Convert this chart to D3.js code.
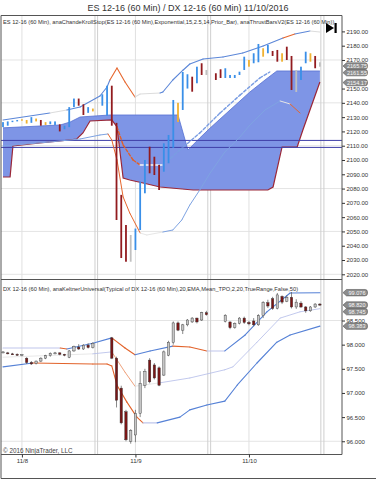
<!DOCTYPE html>
<html>
<head>
<meta charset="utf-8">
<script src="https://cdn.jsdelivr.net/npm/d3@7"></script>
<style>
body{margin:0;background:#fff;}
svg text{font-family:"Liberation Sans",Arial,sans-serif;}
</style>
</head>
<body>
<svg id="chart" width="376" height="480"></svg>
<script>
// 60 min bars, index 0..67
const dateTicks = [[4, "11/8"], [28, "11/9"], [52, "11/10"]];
const sessionBreaks = [19.45, 20.0, 43.3, 43.9, 67.2, 67.85];

// ES 12-16 thrust bars (null = no bar)
const esHigh = [2126.5,2127,2127.5,2128,2128.5,2128,2130,2129,2128,2126.5,
  2127,2127,2125,2124,2137,2143,2143,2139,2137,2136,
  null,2146,2152,2152,2126,2075.6,2054.5,2047.5,2052,2084.8,
  2100,2109.3,2102.3,2096.5,2111.7,2117.5,2142,2140,2161.6,2160,
  2158.3,2165.3,2167.7,2163,null,2160.7,2163.5,2164.2,2159.5,2159.5,
  2161.8,2172.3,2170,2174.7,2181.2,2178.2,2180.5,2176.3,2177,2174.7,
  2179.3,2172.8,2163,2165.3,2175.8,2174.7,2172.8,2168.4];
const esLow = [2123,2124,2126.5,2127,2127.5,2125.5,2126,2127,2124,2124.5,
  2125,2124.5,2120,2121.5,2123,2137,2138,2131.5,2133,2134,
  null,2138,2131,2124,2058,2031.4,2028.8,2028.8,2037,2051,
  2076.7,2090.7,2089.5,2079,2091.8,2097.7,2108.5,2126.6,2135,2150,
  2147.8,2153.7,2159.5,2159.5,null,2156,2157.4,2157.4,2157.4,2157.4,
  2159.5,2163,2165.3,2167.7,2168.4,2172.3,2174.7,2172.8,2168.8,2168.8,
  2170,2149,2147.6,2156,2167.7,2168.8,2164.2,2165.3];
// thrust type: b up-thrust, o weak, r down, g neutral
const esType = "bbbbooboro" + "bbrbbbrrbo" + "-bbrrrrgbb" + "brrrbbbobb" +
  "rbrg-rrbbb" + "bbobbobrro" + "rrgbborg";

// ES indicator lines: [bar index, price, trend]
const esUpper = [[0,2128,"u"],[9.9,2132.9,"f"],[13.5,2135,"u"],[16.3,2137.1,"u"],[20.5,2144.8,"u"],
  [22,2151.1,"u"],[22.6,2156,"d"],[24.1,2164.4,"d"],[25.8,2154.6,"d"],[27.9,2144.1,"f"],
  [29,2146.2,"f"],[33.2,2146.9,"u"],[33.8,2147.6,"u"],[35.9,2156,"u"],[38.1,2163,"u"],
  [39.5,2167.2,"u"],[42.3,2170.7,"u"],[46.5,2172.1,"u"],[50.7,2174.9,"u"],[55,2179.8,"u"],
  [59.2,2185.4,"d"],[61.7,2188.2,"u"],[64.9,2190.3,"f"],[67,2189.6,"f"]];
const esLower = [[0,2109.8,"u"],[9.9,2112.6,"u"],[16.3,2114.7,"u"],[20.5,2117.5,"u"],[22.2,2118.2,"d"],
  [23,2114,"d"],[24.1,2100,"d"],[25.4,2074.1,"d"],[26.8,2062.9,"d"],[29,2048.9,"f"],
  [30.4,2047.5,"f"],[33.8,2049.6,"u"],[35.9,2051,"u"],[37.8,2058,"u"],[39.5,2068.5,"u"],
  [41.6,2079,"u"],[43.8,2090.9,"u"],[46.9,2105.6,"u"],[50.1,2116.1,"u"],[52.2,2124.5,"u"],
  [55.4,2135,"u"],[58.6,2141.3,"f"],[60.7,2139.2,"d"],[62.8,2132.9,"d"]];
const esStop = [[24.1,2123.1,"d"],[25.4,2110.5,"d"],[27.5,2100,"d"],[29,2096.5,"f"],[33.8,2096.5,"u"],
  [37.4,2107,"u"],[41.6,2118.9,"u"],[45.9,2132.9,"u"],[50.1,2145.4,"u"],[54.3,2157.4,"u"],[56.4,2161.6,"u"]];
// Chande Kroll band (fill between top and bottom)
const cloudTop = [[0,2122.5],[12.1,2124.5],[14.2,2126.6],[16.3,2130.1],[22.6,2131.5],[37,2131.5],
  [39.1,2107],[41.6,2115.4],[43.8,2122.4],[48,2135],[52.2,2147.6],[55.4,2156],[57.9,2162.3],[67,2162.3]];
const cloudBottom = [[0,2088.1],[1.5,2088.1],[2.1,2109.8],[7.8,2111.9],[12.1,2113.3],[15.6,2114.7],
  [16.9,2118.9],[18.4,2127.3],[23,2128],[24.1,2123.1],[25.4,2087.4],[26.8,2086],[29.6,2083.9],
  [33.2,2081.1],[40.2,2079],[56,2079],[57.1,2081.1],[59,2109.1],[62.2,2109.1],[63.4,2121],
  [64.9,2135],[67,2154.6]];
const esLevels = [2113.7, 2108.8];
const esMarkers = [["2165.75", 2165.75], ["2161.55", 2161.55], ["2154.17", 2154.17]];
const esTicks = d3.range(2020, 2191, 10);
const esGrid = [2170, 2140, 2110, 2080, 2050, 2020];

// DX 12-16 candles
const dxOpen = [97.84,97.83,97.81,97.80,97.78,97.72,97.63,97.61,97.66,97.72,
  97.77,97.82,97.83,97.80,97.74,97.87,97.95,97.91,97.99,97.94,
  null,null,null,98.14,97.72,97.10,96.61,96.00,96.13,96.58,
  97.16,97.68,97.58,97.52,97.37,97.78,98.04,98.45,98.30,98.41,
  98.47,98.55,98.51,98.66,null,null,null,98.48,98.47,98.35,
  98.44,98.55,98.46,98.49,98.41,98.60,98.87,98.95,98.75,99.00,
  98.90,98.98,98.78,98.86,98.78,98.70,98.78,98.84];
const dxHigh = [97.86,97.85,97.83,97.82,97.80,97.74,97.66,97.67,97.74,97.79,
  97.84,97.85,97.84,97.81,97.89,97.98,98.01,98.01,98.03,98.05,
  null,null,null,98.16,97.75,97.15,96.65,96.25,96.65,97.45,
  97.50,97.72,97.62,97.55,97.88,98.08,98.48,98.48,98.43,98.53,
  98.57,98.56,98.68,98.70,null,null,null,98.63,98.48,98.46,
  98.57,98.58,98.49,98.55,98.63,98.90,98.93,98.99,99.07,99.02,
  99.02,99.09,98.94,98.90,98.80,98.80,98.86,98.86];
const dxLow = [97.82,97.80,97.79,97.77,97.76,97.60,97.58,97.59,97.64,97.70,
  97.75,97.80,97.78,97.76,97.72,97.85,97.89,97.89,97.92,97.92,
  null,null,null,97.70,96.70,96.35,96.00,95.95,95.98,96.50,
  97.10,97.20,97.28,97.14,97.35,97.76,98.00,98.28,98.22,98.38,
  98.45,98.44,98.49,98.60,null,null,null,98.46,98.32,98.33,
  98.42,98.43,98.40,98.38,98.39,98.55,98.76,98.72,98.73,98.84,
  98.88,98.75,98.74,98.76,98.66,98.68,98.76,98.80];
const dxClose = [97.85,97.82,97.80,97.78,97.79,97.63,97.60,97.66,97.72,97.77,
  97.82,97.83,97.80,97.78,97.87,97.96,97.91,97.99,97.94,98.03,
  null,null,null,97.72,96.85,96.38,96.03,96.22,96.58,97.20,
  97.45,97.23,97.31,97.16,97.85,98.05,98.45,98.30,98.41,98.51,
  98.55,98.47,98.66,98.62,null,null,null,98.61,98.35,98.44,
  98.55,98.46,98.43,98.41,98.60,98.87,98.80,98.75,99.03,98.88,
  98.98,98.78,98.88,98.78,98.70,98.78,98.84,98.82];

// Keltner bands: [bar index, price, trend]
const dxUpper = [[0,97.93,"f"],[12.1,97.93,"d"],[13.5,97.91,"u"],[19,98.03,"u"],[23,98.14,"d"],
  [25.8,97.93,"d"],[27.9,97.79,"u"],[31.1,97.87,"u"],[35.9,97.97,"d"],[39.5,97.95,"d"],
  [43.1,97.87,"f"],[46.9,97.87,"u"],[51.2,98.20,"u"],[55.8,98.68,"u"],[60.7,99.07,"u"],[67,99.076,"u"]];
const dxMid = [[0,97.74,"f"],[19,97.81,"u"],[23,97.85,"d"],[25.8,97.43,"d"],[27.9,97.14,"f"],
  [33.2,97.21,"u"],[39.5,97.31,"u"],[46.9,97.48,"u"],[48.6,97.54,"u"],[53.7,98.05,"u"],
  [58.6,98.55,"u"],[62.8,98.68,"u"],[67,98.745,"u"]];
const dxLower = [[0,97.54,"u"],[6.3,97.62,"d"],[19,97.60,"d"],[22,97.60,"d"],[23,97.56,"d"],
  [24.1,97.16,"d"],[26.2,96.81,"d"],[28.3,96.50,"d"],[29.6,96.38,"f"],[32.6,96.38,"u"],
  [37.4,96.50,"u"],[39.5,96.65,"u"],[43.1,96.75,"u"],[46.9,96.83,"u"],[49.5,97.16,"u"],
  [53.7,97.62,"u"],[57.9,98.05,"u"],[60.7,98.20,"u"],[67,98.383,"u"]];
const dxMarkers = [["99.076", 99.076], ["98.820", 98.820], ["98.745", 98.745], ["98.383", 98.383]];
const dxTicks = d3.range(96, 99.01, 0.5);
const dxGrid = [98.5, 96.0];

// ---------------------------------------------------------------
const svg = d3.select("#chart");
const plotL = 1, plotR = 342;
const topT = 15.5, sep = 279.5, botB = 454.5;

const x = d3.scaleLinear().domain([0, 67]).range([3, 319.9]);
const yES = d3.scaleLinear().domain([2020, 2190]).range([274.3, 31.4]);
const yDX = d3.scaleLinear().domain([96, 98.5]).range([441.25, 320.5]);

const defs = svg.append("defs");
defs.append("clipPath").attr("id", "cTop").append("rect")
  .attr("x", plotL).attr("y", topT).attr("width", plotR - plotL).attr("height", sep - topT);
defs.append("clipPath").attr("id", "cBot").append("rect")
  .attr("x", plotL).attr("y", sep).attr("width", plotR - plotL).attr("height", botB - sep);

// title
svg.append("text").attr("x", 188).attr("y", 11).attr("text-anchor", "middle")
  .style("font-size", "9px").attr("fill", "#333")
  .text("ES 12-16 (60 Min) / DX 12-16 (60 Min)  11/10/2016");

// grid
const grid = svg.append("g");
grid.selectAll(".hgES").data(esGrid).join("line")
  .attr("x1", plotL).attr("x2", plotR).attr("y1", d => yES(d)).attr("y2", d => yES(d))
  .attr("stroke", "#e4e4e4").attr("stroke-width", 1);
grid.selectAll(".hgDX").data(dxGrid).join("line")
  .attr("x1", plotL).attr("x2", plotR).attr("y1", d => yDX(d)).attr("y2", d => yDX(d))
  .attr("stroke", "#e4e4e4").attr("stroke-width", 1);
grid.selectAll(".vg").data(dateTicks).join("line")
  .attr("x1", d => x(d[0])).attr("x2", d => x(d[0])).attr("y1", topT).attr("y2", botB)
  .attr("stroke", "#e0e0e0");
grid.selectAll(".sb").data(sessionBreaks).join("line")
  .attr("x1", d => x(d)).attr("x2", d => x(d)).attr("y1", topT).attr("y2", botB)
  .attr("stroke", "#cfcfcf");

const colorsUp = {u: "#5c87d8", d: "#e6662d", f: "#dcdcdc"};
const colorsLo = {u: "#7ea3e2", d: "#e6662d", f: "#e6e6e6"};
const colorsStop = {u: "#7a9de2", d: "#e0602a", f: "#f6f6f6"};
const colorsDX = {u: "#5581d6", d: "#e2632b", f: "#bfc6ec"};
const colorsMid = {u: "#b3bbe9", d: "#ea8a5c", f: "#e2e2e2"};

function trendLine(g, pts, yS, colors, width, dash) {
  const line = d3.line().x(d => x(d[0])).y(d => yS(d[1]));
  g.append("g").selectAll("path").data(d3.pairs(pts)).join("path")
    .attr("d", d => line(d))
    .attr("fill", "none")
    .attr("stroke", d => colors[d[0][2]])
    .attr("stroke-width", width)
    .attr("stroke-dasharray", dash || null)
    .attr("stroke-linecap", "round");
}

// ---------------- top panel (ES) ----------------
const topG = svg.append("g").attr("clip-path", "url(#cTop)");
const cl = d3.line().x(d => x(d[0])).y(d => yES(d[1]));
topG.append("path")
  .attr("d", cl(cloudTop.concat(cloudBottom.slice().reverse())) + "Z")
  .attr("fill", "#7e95e6").attr("stroke", "none");
topG.append("path").attr("d", cl(cloudTop)).attr("fill", "none")
  .attr("stroke", "#5570d2").attr("stroke-width", 0.8);
topG.append("path").attr("d", cl(cloudBottom)).attr("fill", "none")
  .attr("stroke", "#9b2838").attr("stroke-width", 1.2);

topG.selectAll(".lvl").data(esLevels).join("line")
  .attr("x1", plotL).attr("x2", plotR).attr("y1", d => yES(d)).attr("y2", d => yES(d))
  .attr("stroke", "#3f3fa8").attr("stroke-width", 1);

trendLine(topG, esLower, yES, colorsLo, 1);
trendLine(topG, esUpper, yES, colorsUp, 1.1);
trendLine(topG, esStop, yES, colorsStop, 1.4, "3,2");

const esColor = {b: "#3a8fe8", o: "#f0b232", r: "#921b1f", g: "#c0c0c0"};
const esBars = d3.range(esHigh.length).filter(i => esHigh[i] != null)
  .map(i => ({i, h: esHigh[i], l: esLow[i], t: esType[i]}));
topG.selectAll(".esbar").data(esBars).join("rect")
  .attr("x", d => x(d.i) - 0.9).attr("width", 1.8)
  .attr("y", d => yES(d.h))
  .attr("height", d => Math.max(1.2, yES(d.l) - yES(d.h)))
  .attr("fill", d => esColor[d.t]);

svg.append("text").attr("x", 3).attr("y", 24).attr("clip-path", "url(#cTop)")
  .style("font-size", "5.7px").attr("fill", "#333")
  .text("ES 12-16 (60 Min), anaChandeKrollStop(ES 12-16 (60 Min),Exponential,15,2.5,14,Prior_Bar), anaThrustBarsV2(ES 12-16 (60 Min))");

// jump-to-end icon
svg.append("path").attr("d", "M326,23 L326,33 L334,28 Z").attr("fill", "#000");
svg.append("rect").attr("x", 334.5).attr("y", 23).attr("width", 2.2).attr("height", 10).attr("fill", "#000");

// ---------------- bottom panel (DX) ----------------
const botG = svg.append("g").attr("clip-path", "url(#cBot)");
trendLine(botG, dxLower, yDX, colorsDX, 1.1);
trendLine(botG, dxMid, yDX, colorsMid, 0.8);
trendLine(botG, dxUpper, yDX, colorsDX, 1.1);

const candles = d3.range(dxOpen.length).filter(i => dxOpen[i] != null)
  .map(i => ({i, o: dxOpen[i], h: dxHigh[i], l: dxLow[i], c: dxClose[i]}));
botG.selectAll(".wick").data(candles).join("line")
  .attr("x1", d => x(d.i)).attr("x2", d => x(d.i))
  .attr("y1", d => yDX(d.h)).attr("y2", d => yDX(d.l))
  .attr("stroke", "#555").attr("stroke-width", 0.7);
botG.selectAll(".body").data(candles).join("rect")
  .attr("x", d => x(d.i) - 1.2).attr("width", 2.4)
  .attr("y", d => yDX(Math.max(d.o, d.c)))
  .attr("height", d => Math.max(1, Math.abs(yDX(d.o) - yDX(d.c))))
  .attr("fill", d => d.c >= d.o ? "#c6c6c6" : "#7a1616")
  .attr("stroke", "#333").attr("stroke-width", 0.4);

svg.append("text").attr("x", 3).attr("y", 291).attr("clip-path", "url(#cBot)")
  .style("font-size", "5.7px").attr("fill", "#333")
  .text("DX 12-16 (60 Min), anaKeltnerUniversal(Typical of DX 12-16 (60 Min),20,EMA,Mean_TPO,2,20,TrueRange,False,50)");

svg.append("text").attr("x", 3).attr("y", 453)
  .style("font-size", "6.3px").attr("fill", "#444")
  .text("\u00a9 2016 NinjaTrader, LLC");

// ---------------- frame ----------------
const frame = svg.append("g").attr("stroke", "#555").attr("fill", "none");
frame.append("line").attr("x1", 1).attr("x2", 1).attr("y1", topT).attr("y2", 478.5);
frame.append("line").attr("x1", 1).attr("x2", 376).attr("y1", 478.5).attr("y2", 478.5);
frame.append("line").attr("x1", 1).attr("x2", plotR).attr("y1", topT).attr("y2", topT);
frame.append("line").attr("x1", 1).attr("x2", plotR).attr("y1", sep).attr("y2", sep);
frame.append("line").attr("x1", 1).attr("x2", plotR).attr("y1", botB).attr("y2", botB);
frame.append("line").attr("x1", plotR).attr("x2", plotR).attr("y1", topT).attr("y2", botB);

// ---------------- axes ----------------
// price markers sit on top of the axis; ticks they cover are not drawn
function placeMarkers(list, yS) {
  const items = list.map(([lab, v]) => ({lab, y: yS(v)})).sort((a, b) => a.y - b.y);
  for (let k = 1; k < items.length; k++) {
    if (items[k].y - items[k - 1].y < 6.6) items[k].y = items[k - 1].y + 6.6;
  }
  return items;
}
const esMk = placeMarkers(esMarkers, yES);
const dxMk = placeMarkers(dxMarkers, yDX);
const free = (ticks, yS, mk) => ticks.filter(t => mk.every(m => Math.abs(yS(t) - m.y) > 5.5));

function styleAxis(g) {
  g.select(".domain").remove();
  g.selectAll("line").attr("stroke", "#333");
  g.selectAll("text").style("font-size", "6px").attr("fill", "#333")
    .style("font-family", "'Liberation Sans',Arial,sans-serif");
}
svg.append("g").attr("transform", `translate(${plotR},0)`)
  .call(d3.axisRight(yES).tickValues(free(esTicks, yES, esMk)).tickFormat(d3.format(".2f")).tickSize(3).tickPadding(1.5))
  .call(styleAxis);
svg.append("g").attr("transform", `translate(${plotR},0)`)
  .call(d3.axisRight(yDX).tickValues(free(dxTicks, yDX, dxMk)).tickFormat(d3.format(".3f")).tickSize(3).tickPadding(1.5))
  .call(styleAxis);
svg.append("g").attr("transform", `translate(0,${botB})`)
  .call(d3.axisBottom(x).tickValues(dateTicks.map(d => d[0]))
    .tickFormat(d => dateTicks.find(t => t[0] === d)[1]).tickSize(3).tickPadding(1.5))
  .call(styleAxis);

function drawMarkers(items) {
  const g = svg.append("g").selectAll("g").data(items).join("g")
    .attr("transform", d => `translate(0,${d.y})`);
  g.append("path")
    .attr("d", "M343,0 L346.5,-3.2 L365,-3.2 Q367.5,-3.2 367.5,-0.8 L367.5,0.8 Q367.5,3.2 365,3.2 L346.5,3.2 Z")
    .attr("fill", "#8d8d8d").attr("stroke", "#555").attr("stroke-width", 0.6);
  g.append("text").attr("x", 357).attr("y", 2).attr("text-anchor", "middle")
    .style("font-size", "5.6px").attr("fill", "#f5f5f5").text(d => d.lab);
}
drawMarkers(esMk);
drawMarkers(dxMk);
</script>
</body>
</html>
